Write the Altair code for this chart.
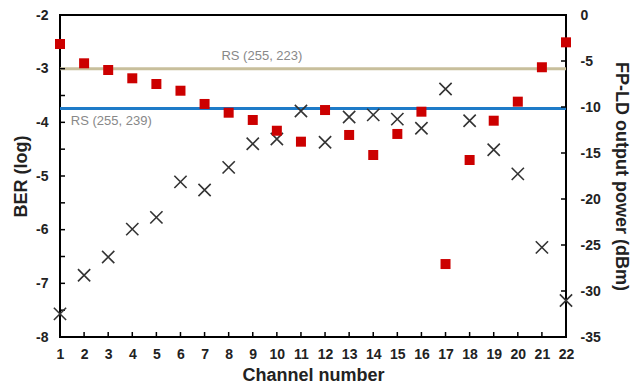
import altair as alt
import pandas as pd

channels = list(range(1, 23))
ber_log = [-7.57, -6.85, -6.51, -5.99, -5.77, -5.11, -5.26, -4.84, -4.40, -4.31, -3.79,
           -4.37, -3.90, -3.86, -3.94, -4.11, -3.38, -3.97, -4.51, -4.96, -6.33, -7.32]
power_dbm = [-3.15, -5.25, -5.98, -6.88, -7.50, -8.23, -9.67, -10.62, -11.41, -12.58, -13.77,
             -10.33, -13.04, -15.22, -12.93, -10.51, -27.07, -15.76, -11.49, -9.42, -5.68, -2.97]
thr_names = ["RS (255, 223)", "RS (255, 239)"]
thr_values = [-3.0, -3.74]
thr_colors = ["#C8BF9C", "#1E7BC8"]
label_channel = [7.7, 1.45]
label_ber = [-2.77, -3.97]
ber_labels = [-8, -7, -6, -5, -4, -3, -2]
ber_ticks = [-8, -7.5, -7, -6.5, -6, -5.5, -5, -4.5, -4, -3.5, -3, -2.5, -2]
power_ticks = [-35, -30, -25, -20, -15, -10, -5, 0]

FONT = "Liberation Sans"
W, H = 506, 322

df = pd.DataFrame({"channel": channels, "ber": ber_log, "power": power_dbm})
thr = pd.DataFrame({"name": thr_names, "value": thr_values, "color": thr_colors,
                    "lx": label_channel, "ly": label_ber})
bt = pd.DataFrame({"t": ber_ticks})
pt = pd.DataFrame({"t": power_ticks})
ct = pd.DataFrame({"channel": channels})

x_scale = alt.Scale(domain=[1, 22], nice=False, zero=False)
x_axis = alt.Axis(values=channels, title="Channel number", tickSize=0, domain=False, grid=False,
                  labelFontSize=14, labelFontWeight="bold", labelFont=FONT, labelColor="#222",
                  labelPadding=10, titleFontSize=18, titleFontWeight="bold", titleFont=FONT,
                  titleColor="#222", titlePadding=5, labelFlush=False)
ber_scale = alt.Scale(domain=[-8, -2], nice=False, zero=False)
ber_axis = alt.Axis(values=ber_labels, title="BER (log)", orient="left", tickSize=0, domain=False,
                    grid=False, labelExpr="'' + datum.value", labelFontSize=14,
                    labelFontWeight="bold", labelFont=FONT, labelColor="#222", labelPadding=12,
                    titleFontSize=18, titleFontWeight="bold", titleFont=FONT, titleColor="#222",
                    titlePadding=5)
pw_scale = alt.Scale(domain=[-35, 0], nice=False, zero=False)
pw_axis = alt.Axis(values=power_ticks, title="FP-LD output power (dBm)", orient="right", tickSize=0,
                   domain=False, grid=False, labelExpr="'' + datum.value", labelFontSize=14,
                   labelFontWeight="bold", labelFont=FONT, labelColor="#222", labelPadding=14,
                   titleFontSize=18, titleFontWeight="bold", titleFont=FONT, titleColor="#222",
                   titlePadding=11)

X = lambda: alt.X("channel:Q", scale=x_scale, axis=x_axis)
YB = lambda f: alt.Y(f, scale=ber_scale, axis=ber_axis)
YP = lambda f: alt.Y(f, scale=pw_scale, axis=pw_axis)

xpath = "M-1,-1L1,1M-1,1L1,-1"

ber_pts = alt.Chart(df).mark_point(shape=xpath, filled=False, stroke="#333333", strokeWidth=1.6,
                                   size=150, opacity=1).encode(x=X(), y=YB("ber:Q"))
thr_rules = alt.Chart(thr).mark_rule(strokeWidth=3).encode(
    y=YB("value:Q"), color=alt.Color("color:N", scale=None))
thr_text = alt.Chart(thr).mark_text(align="left", baseline="middle", fontSize=13, font=FONT,
                                    color="#888888").encode(
    x=alt.X("lx:Q", scale=x_scale, axis=x_axis), y=YB("ly:Q"), text="name:N")
left_ticks = alt.Chart(bt).mark_rule(color="black", strokeWidth=1.5).encode(
    y=YB("t:Q"), x=alt.value(0), x2=alt.value(5))
bottom_ticks = alt.Chart(ct).mark_rule(color="black", strokeWidth=1.5).encode(
    x=X(), y=alt.value(H), y2=alt.value(H - 5))

left = alt.layer(thr_rules, thr_text, left_ticks, bottom_ticks, ber_pts)

pw_pts = alt.Chart(df).mark_square(color="#CC0000", size=100, opacity=1).encode(
    x=X(), y=YP("power:Q"))
right_ticks = alt.Chart(pt).mark_rule(color="black", strokeWidth=1.5).encode(
    y=YP("t:Q"), x=alt.value(W), x2=alt.value(W - 5))
right = alt.layer(right_ticks, pw_pts)

chart = alt.layer(left, right).resolve_scale(y="independent").properties(
    width=W, height=H,
    autosize=alt.AutoSizeParams(type="none"),
    padding={"left": 60, "top": 15, "right": 76, "bottom": 50},
    background="white",
).configure_view(stroke="black", strokeWidth=2)

chart.save("out.html", embed_options={"renderer": "svg", "actions": False})
